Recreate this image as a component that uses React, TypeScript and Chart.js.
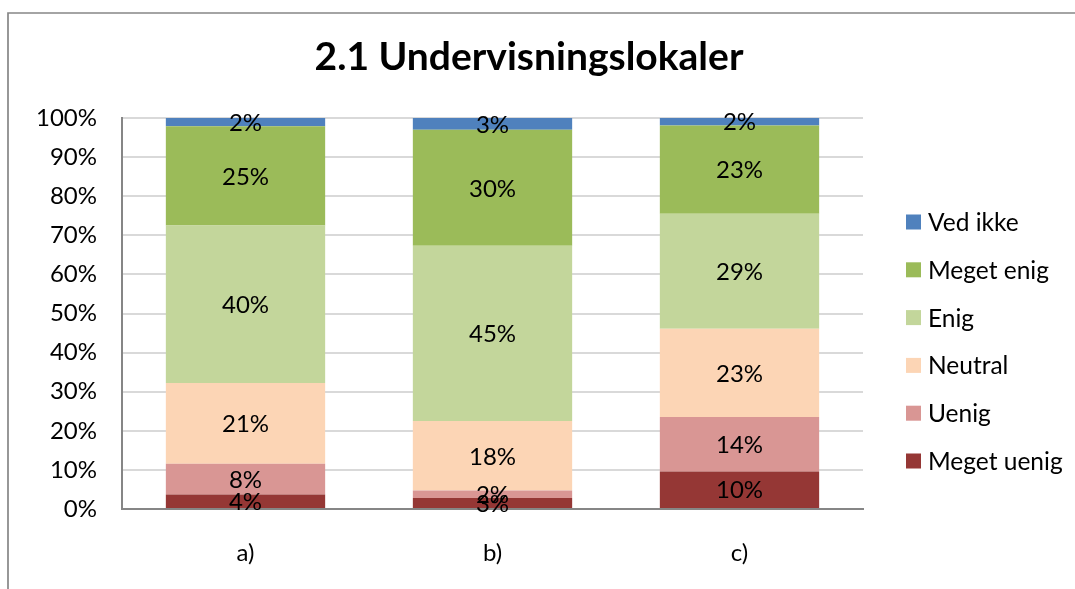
import React, { useEffect, useRef } from "react";
import { Chart, registerables } from "chart.js";

Chart.register(...registerables);

const title = "2.1 Undervisningslokaler";
const categories = ["a)", "b)", "c)"];
const seriesNames = ["Meget uenig", "Uenig", "Neutral", "Enig", "Meget enig", "Ved ikke"];
const megetUenig = [3.7, 2.8, 9.6];
const uenig = [7.9, 1.9, 13.9];
const neutral = [20.6, 17.8, 22.6];
const enig = [40.3, 44.8, 29.4];
const megetEnig = [25.4, 29.7, 22.6];
const vedIkke = [2.1, 3.0, 1.9];
const seriesColors = ["#953735", "#D99694", "#FCD5B5", "#C3D69B", "#9BBB59", "#4F81BD"];
const yTicks = [0, 10, 20, 30, 40, 50, 60, 70, 80, 90, 100];

const FONT = "Lato, 'Noto Sans', sans-serif";

export default function App() {
  const ref = useRef<HTMLCanvasElement | null>(null);

  useEffect(() => {
    if (!ref.current) return;
    const values = [megetUenig, uenig, neutral, enig, megetEnig, vedIkke];

    const framePlugin = {
      id: "frame",
      beforeDraw(chart: any) {
        const ctx = chart.ctx;
        ctx.save();
        ctx.fillStyle = "#ffffff";
        ctx.fillRect(0, 0, chart.width, chart.height);
        ctx.strokeStyle = "#868686";
        ctx.lineWidth = 1.7;
        ctx.beginPath();
        ctx.moveTo(8, chart.height);
        ctx.lineTo(8, 13);
        ctx.lineTo(chart.width, 13);
        ctx.stroke();
        ctx.fillStyle = "#000000";
        ctx.font = `bold 39px ${FONT}`;
        ctx.textAlign = "center";
        ctx.textBaseline = "alphabetic";
        ctx.fillText(title, 529, 70);
        ctx.restore();
      },
    };

    const labelPlugin = {
      id: "barLabels",
      afterDatasetsDraw(chart: any) {
        const ctx = chart.ctx;
        ctx.save();
        ctx.fillStyle = "#000000";
        ctx.font = `24px ${FONT}`;
        ctx.textAlign = "center";
        ctx.textBaseline = "middle";
        chart.data.datasets.forEach((ds: any, di: number) => {
          const meta = chart.getDatasetMeta(di);
          meta.data.forEach((el: any, i: number) => {
            const v = ds.data[i];
            const y = (el.y + el.base) / 2;
            ctx.fillText(Math.round(v) + "%", el.x, y + 1);
          });
        });
        ctx.restore();
      },
    };

    const legendPlugin = {
      id: "customLegend",
      afterDraw(chart: any) {
        const ctx = chart.ctx;
        ctx.save();
        ctx.font = `24.5px ${FONT}`;
        ctx.textAlign = "left";
        ctx.textBaseline = "middle";
        const ds = chart.data.datasets.slice().reverse();
        ds.forEach((d: any, i: number) => {
          const cy = 222 + i * 47.8;
          ctx.fillStyle = d.backgroundColor;
          ctx.fillRect(906, cy - 7.5, 15, 15);
          ctx.fillStyle = "#000000";
          ctx.fillText(d.label, 928, cy + 1);
        });
        ctx.restore();
      },
    };

    const chart = new Chart(ref.current, {
      type: "bar",
      data: {
        labels: categories,
        datasets: seriesNames.map((name, i) => ({
          label: name,
          data: values[i],
          backgroundColor: seriesColors[i],
          borderWidth: 0,
          barPercentage: 0.645,
          categoryPercentage: 1,
        })),
      },
      options: {
        responsive: false,
        animation: false,
        devicePixelRatio: 1,
        layout: { padding: { left: 8, right: 212, top: 118, bottom: 0 } },
        plugins: {
          legend: { display: false },
          title: { display: false },
          tooltip: { enabled: false },
        },
        scales: {
          x: {
            stacked: true,
            grid: { display: false, drawTicks: false },
            border: { display: true, color: "#868686", width: 2 },
            ticks: { color: "#000", font: { family: FONT, size: 24 }, padding: 30 },
            afterFit(scale: any) {
              scale.height = 80;
            },
          },
          y: {
            stacked: true,
            min: 0,
            max: 100,
            afterBuildTicks(scale: any) {
              scale.ticks = yTicks.map((v) => ({ value: v }));
            },
            ticks: {
              color: "#000",
              font: { family: FONT, size: 24 },
              padding: 25,
              callback: (v: any) => v + "%",
            },
            grid: { color: "#d9d9d9", lineWidth: 2, drawTicks: false },
            border: { display: true, color: "#868686", width: 2 },
            afterFit(scale: any) {
              scale.width = 114;
            },
          },
        },
      },
      plugins: [framePlugin, labelPlugin, legendPlugin],
    });
    return () => chart.destroy();
  }, []);

  return (
    <div style={{ position: "fixed", left: 0, top: 0, width: 1075, height: 589, background: "#fff" }}>
      <canvas ref={ref} width={1075} height={589} style={{ width: 1075, height: 589, display: "block" }} />
    </div>
  );
}
